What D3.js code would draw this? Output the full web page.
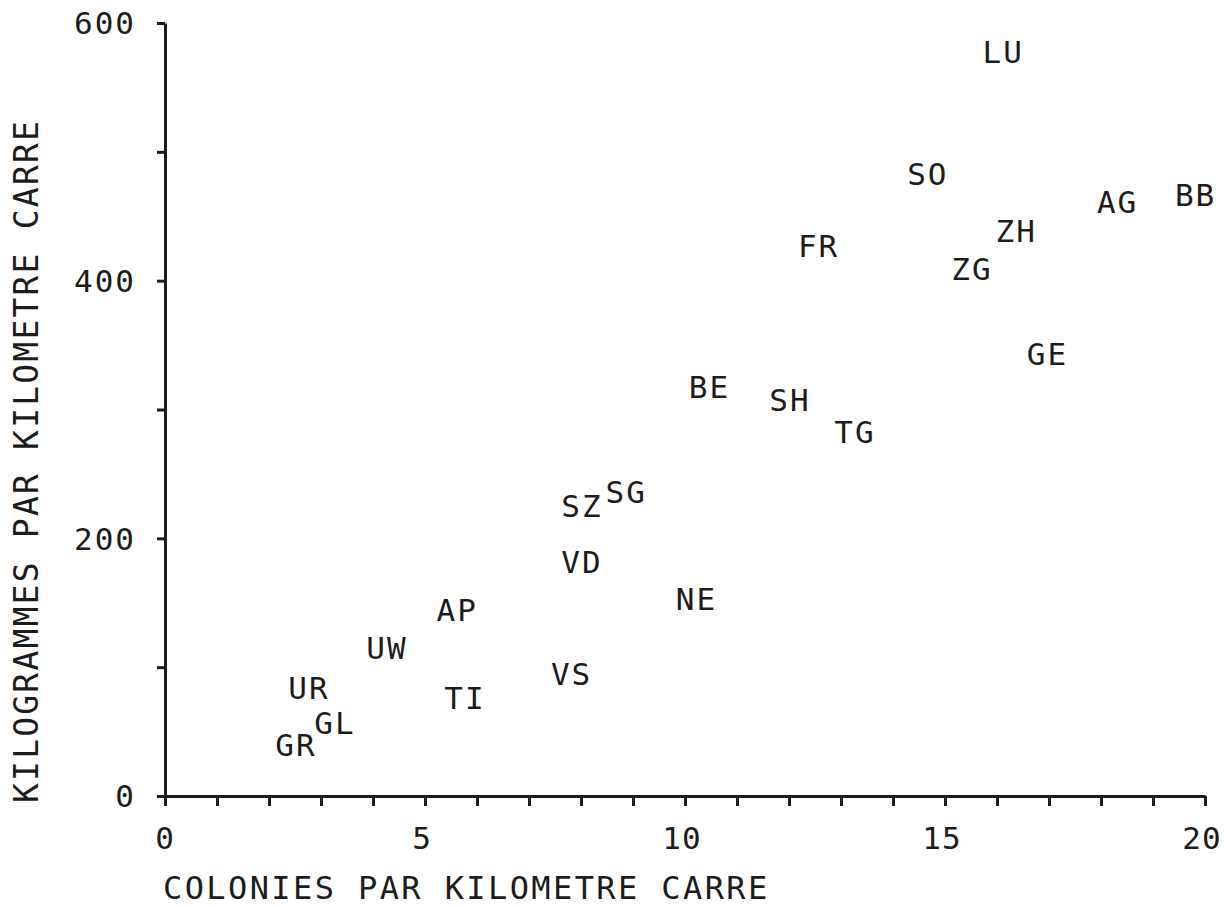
<!DOCTYPE html>
<html>
<head>
<meta charset="utf-8">
<script src="https://cdn.jsdelivr.net/npm/d3@7"></script>
<style>
  body { margin: 0; background: #fff; }
  svg { display: block; }
  text { font-family: "DejaVu Sans Mono", monospace; fill: #1c1c1c; }
  .axis path, .axis line { stroke: #1c1c1c; stroke-width: 3; }
</style>
</head>
<body>
<svg width="1224" height="907"></svg>
<script>
// cantons, colonies per km2, kg per km2
var codes = ["LU", "SO", "BB", "AG", "ZH", "FR", "ZG", "GE", "BE", "SH", "TG",
             "SG", "SZ", "VD", "NE", "AP", "UW", "VS", "UR", "TI", "GL", "GR"];
var colonies = [16.1, 14.65, 19.8, 18.3, 16.35, 12.55, 15.5, 16.95, 10.45, 12.0, 13.25,
                8.85, 8.0, 8.0, 10.2, 5.6, 4.25, 7.8, 2.75, 5.75, 3.25, 2.5];
var kilos = [578, 483, 467, 461, 439, 427, 409, 343, 318, 308, 283,
             236, 225, 182, 153, 145, 115, 95, 84, 76, 57, 40];

var xTicks = d3.range(0, 21, 1);
var xLabels = [0, 5, 10, 15, 20];
var yTicks = [0, 100, 200, 300, 400, 500, 600];
var yLabels = [0, 200, 400, 600];

var svg = d3.select("svg");
var margin = { top: 23, right: 19, bottom: 111, left: 165 };
var width = +svg.attr("width");
var height = +svg.attr("height");

var xScale = d3.scaleLinear()
  .domain([0, 20])
  .range([margin.left, width - margin.right]);

var yScale = d3.scaleLinear()
  .domain([0, 600])
  .range([height - margin.bottom, margin.top]);

// x axis
var xAxis = svg.append("g")
  .attr("class", "axis")
  .attr("transform", `translate(0, ${yScale(0)})`)
  .call(d3.axisBottom(xScale)
    .tickValues(xTicks)
    .tickSizeInner(10)
    .tickSizeOuter(0)
    .tickFormat(""));
xAxis.selectAll("text").remove();

svg.append("g")
  .selectAll("text")
  .data(xLabels)
  .join("text")
    .attr("x", d => xScale(d) - (d ? 3 : 0))
    .attr("y", yScale(0) + 42)
    .attr("dy", "0.365em")
    .attr("text-anchor", "middle")
    .style("font-size", "31px")
    .style("letter-spacing", "1px")
    .text(d => d);

// y axis
var yAxis = svg.append("g")
  .attr("class", "axis")
  .attr("transform", `translate(${xScale(0)}, 0)`)
  .call(d3.axisLeft(yScale)
    .tickValues(yTicks)
    .tickSizeInner(8)
    .tickSizeOuter(0)
    .tickFormat(""));
yAxis.selectAll("text").remove();

svg.append("g")
  .selectAll("text")
  .data(yLabels)
  .join("text")
    .attr("x", 136)
    .attr("y", d => yScale(d))
    .attr("dy", "0.365em")
    .attr("text-anchor", "end")
    .style("font-size", "31px")
    .style("letter-spacing", "2px")
    .text(d => d);

// axis titles
svg.append("text")
  .attr("x", 163)
  .attr("y", 899)
  .style("font-size", "32px")
  .style("letter-spacing", "2.4px")
  .text("COLONIES PAR KILOMETRE CARRE");

svg.append("text")
  .attr("transform", "translate(38, 803) rotate(-90)")
  .style("font-size", "33px")
  .style("letter-spacing", "2.2px")
  .text("KILOGRAMMES PAR KILOMETRE CARRE");

// point labels
svg.append("g")
  .selectAll("text")
  .data(codes)
  .join("text")
    .attr("x", (d, i) => xScale(colonies[i]) + 1)
    .attr("y", (d, i) => yScale(kilos[i]))
    .attr("dy", "0.365em")
    .attr("text-anchor", "middle")
    .style("font-size", "31px")
    .style("letter-spacing", "2px")
    .text(d => d);
</script>
</body>
</html>
